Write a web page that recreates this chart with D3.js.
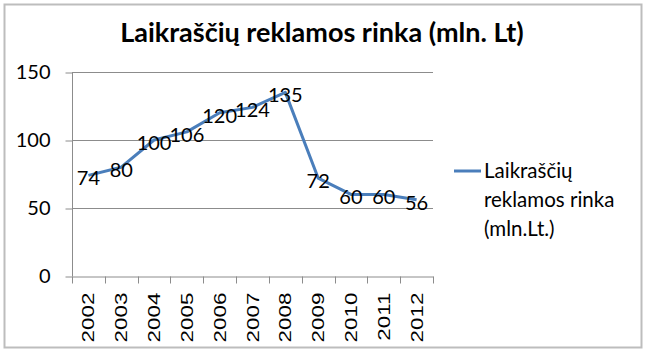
<!DOCTYPE html>
<html><head><meta charset="utf-8">
<script src="https://cdn.jsdelivr.net/npm/d3@7"></script>
<style>body{margin:0;background:#fff}</style>
</head><body>
<svg id="c" width="647" height="356"></svg>
<script>
const years = ["2002","2003","2004","2005","2006","2007","2008","2009","2010","2011","2012"];
const values = [74, 80, 100, 106, 120, 124, 135, 72, 60, 60, 56];
const yTicks = [0, 50, 100, 150];
const title = "Laikraščių reklamos rinka (mln. Lt)";
const legendLines = ["Laikraščių", "reklamos rinka", "(mln.Lt.)"];

const svg = d3.select("#c");
const font = "Lato, 'Open Sans', sans-serif";
svg.append("rect").attr("x",4.5).attr("y",4.5).attr("width",637).attr("height",343)
  .attr("fill","#fff").attr("stroke","#bdbdbd").attr("stroke-width",2);

svg.append("text").attr("x",322).attr("y",42).attr("text-anchor","middle")
  .attr("font-family",font).attr("font-weight","bold").attr("font-size",27)
  .attr("fill","#000").text(title);

const x = d3.scaleBand().domain(years).range([72,433]);
const y = d3.scaleLinear().domain([0,150]).range([276,72]);

svg.append("g").selectAll("line").data(yTicks.filter(d=>d>0)).join("line")
  .attr("x1",72).attr("x2",433).attr("y1",d=>Math.round(y(d))+0.5).attr("y2",d=>Math.round(y(d))+0.5)
  .attr("stroke","#8c8c8c").attr("stroke-width",1);

const ya = svg.append("g").attr("transform","translate(72.5,0.5)")
  .call(d3.axisLeft(y).tickValues(yTicks).tickSize(7).tickPadding(15));
ya.select(".domain").attr("stroke","#8c8c8c").attr("d","M0,"+y(150)+"V"+y(0));
ya.selectAll(".tick line").attr("stroke","#8c8c8c");
ya.selectAll("text").attr("font-family",font).attr("font-size",20).attr("fill","#000");

const xa = svg.append("g").attr("transform","translate(0,"+(Math.round(y(0))+0.5)+")")
  .call(d3.axisBottom(x).tickSize(0).tickFormat(""));
xa.select(".domain").attr("stroke","#8c8c8c");
const bounds = x.domain().map(d=>x(d)).concat([x.range()[1]]);
xa.selectAll(".sep").data(bounds).join("line").attr("class","sep")
  .attr("x1",d=>Math.round(d)+0.5).attr("x2",d=>Math.round(d)+0.5).attr("y1",0).attr("y2",7)
  .attr("stroke","#8c8c8c");
xa.selectAll(".lbl").data(years).join("text").attr("class","lbl")
  .attr("transform",d=>"translate("+(x(d)+x.bandwidth()/2+6)+",16) scale(1,1.32) rotate(-90)")
  .attr("text-anchor","end").attr("font-family","'Liberation Sans', Arial, sans-serif")
  .attr("font-size",17).attr("fill","#000").text(d=>d);

const cx = d=>x(d)+x.bandwidth()/2;
const line = d3.line().x((d,i)=>cx(years[i])).y(d=>y(d));
svg.append("path").datum(values).attr("d",line).attr("fill","none")
  .attr("stroke","#4a7ebb").attr("stroke-width",3).attr("stroke-linejoin","round");

svg.append("g").selectAll("text").data(values).join("text")
  .attr("x",(d,i)=>cx(years[i])).attr("y",d=>y(d)+10).attr("text-anchor","middle")
  .attr("font-family",font).attr("font-size",20).attr("fill","#000").text(d=>d);

svg.append("line").attr("x1",454).attr("x2",481).attr("y1",171).attr("y2",171)
  .attr("stroke","#4a7ebb").attr("stroke-width",3);
svg.append("g").selectAll("text").data(legendLines).join("text")
  .attr("x",484).attr("y",(d,i)=>178+i*29).attr("font-family",font).attr("font-size",20.5)
  .attr("fill","#000").text(d=>d);
</script>
</body></html>
